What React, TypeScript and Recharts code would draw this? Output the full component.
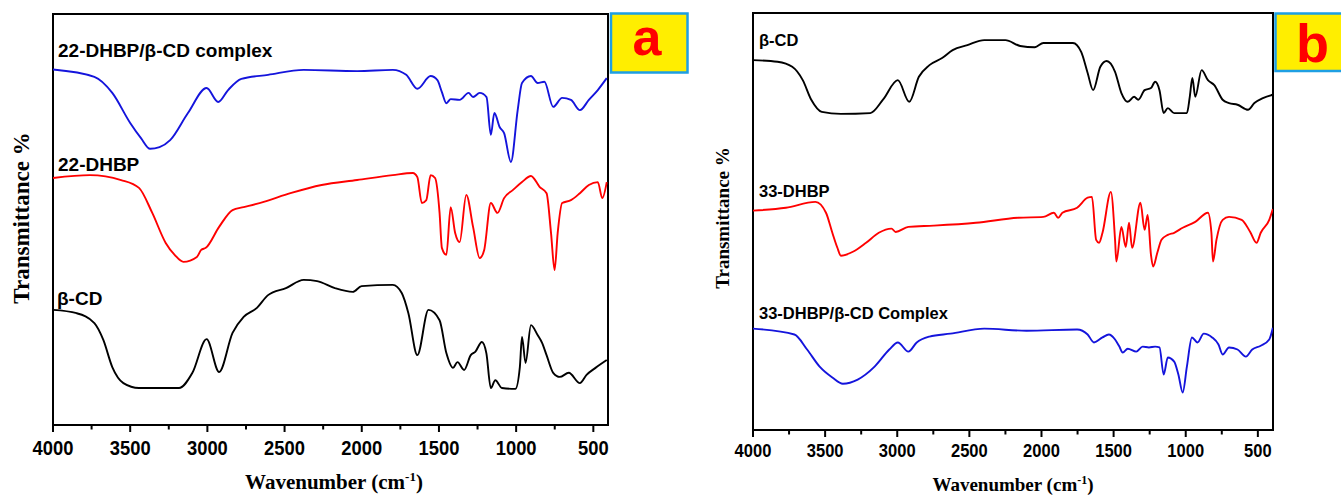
import React from "react";
import { LineChart, Line, XAxis, YAxis, ReferenceArea } from "recharts";

// FTIR spectra, [wavenumber cm-1, transmittance (offset, a.u.)]
// panel a
const complexA: [number, number][] = [
  [4000, 86.5], [3732, 84.7], [3616, 80.8], [3500, 73.5], [3430, 69.8], [3371, 67.2], [3310, 67.6],
  [3241, 69.3], [3126, 75.9], [3005, 82.0], [2930, 78.6], [2866, 81.5], [2780, 84.2], [2607, 85.2],
  [2376, 86.4], [2030, 86.1], [1799, 86.4], [1712, 85.2], [1640, 81.8], [1554, 84.9], [1510, 83.9],
  [1481, 81.0], [1452, 78.3], [1424, 79.3], [1366, 79.1], [1308, 80.8], [1279, 79.8], [1236, 80.8],
  [1192, 79.8], [1164, 70.6], [1141, 75.9], [1107, 72.5], [1078, 71.0], [1034, 64.0], [990, 76.6],
  [962, 83.2], [904, 84.9], [861, 83.2], [817, 83.5], [760, 77.4], [702, 79.6], [645, 79.1],
  [587, 76.6], [529, 79.1], [471, 81.5], [413, 84.4],
];
const dhbpA: [number, number][] = [
  [4000, 60.1], [3761, 60.8], [3559, 59.6], [3443, 57.7], [3357, 51.6], [3270, 44.3], [3212, 41.4],
  [3155, 39.7], [3068, 40.9], [3040, 42.6], [3010, 43.1], [2924, 48.2], [2837, 52.3], [2765, 53.0],
  [2635, 54.3], [2462, 56.4], [2260, 58.4], [2030, 59.6], [1799, 60.8], [1669, 61.3], [1640, 60.3],
  [1611, 54.0], [1582, 54.7], [1554, 60.8], [1525, 60.1], [1496, 51.6], [1481, 43.1], [1452, 41.4],
  [1424, 53.0], [1395, 46.7], [1366, 44.5], [1323, 56.0], [1279, 48.2], [1236, 40.6], [1207, 42.6],
  [1164, 54.0], [1121, 51.6], [1078, 55.2], [1020, 57.2], [962, 59.1], [904, 60.6], [847, 57.9],
  [803, 56.4], [774, 46.7], [751, 37.7], [731, 46.7], [702, 54.0], [645, 54.7], [587, 56.4],
  [529, 58.4], [471, 59.1], [442, 55.2], [413, 59.1],
];
const cdA: [number, number][] = [
  [4000, 28.0], [3847, 27.2], [3732, 24.8], [3674, 20.7], [3616, 14.1], [3544, 10.2], [3443, 9.0],
  [3184, 9.0], [3097, 12.7], [3005, 20.9], [2924, 12.9], [2837, 22.4], [2765, 26.3], [2679, 28.5],
  [2607, 31.6], [2491, 33.3], [2376, 35.3], [2289, 35.0], [2174, 33.3], [2058, 32.4], [2001, 33.8],
  [1799, 34.1], [1741, 32.1], [1698, 27.2], [1640, 17.0], [1568, 28.0], [1496, 25.5], [1452, 17.5],
  [1409, 13.9], [1380, 15.3], [1337, 13.4], [1294, 17.0], [1265, 17.8], [1222, 20.2], [1193, 17.5],
  [1164, 9.0], [1135, 10.9], [1092, 9.0], [1005, 8.8], [976, 14.1], [962, 21.4], [939, 15.1],
  [904, 24.3], [861, 21.9], [832, 20.0], [803, 17.0], [760, 12.7], [717, 11.7], [659, 12.7],
  [587, 10.2], [544, 12.2], [486, 13.9], [413, 15.8],
];

// panel b
const cdB: [number, number][] = [
  [4000, 88.7], [3830, 88.3], [3728, 87.1], [3655, 83.9], [3596, 79.2], [3523, 76.3], [3391, 75.8],
  [3187, 76.0], [3099, 79.2], [2996, 83.9], [2917, 78.7], [2850, 84.7], [2777, 87.5], [2689, 89.2],
  [2616, 91.1], [2514, 92.3], [2397, 93.5], [2250, 93.5], [2148, 92.1], [2046, 91.8], [1987, 92.8],
  [1782, 92.8], [1724, 90.6], [1680, 85.6], [1642, 81.5], [1592, 87.1], [1548, 88.5], [1490, 85.9],
  [1446, 80.8], [1402, 78.7], [1358, 79.9], [1329, 79.2], [1285, 81.5], [1241, 82.0], [1212, 83.5],
  [1182, 81.5], [1153, 76.0], [1124, 77.2], [1080, 76.0], [992, 76.0], [972, 79.9], [954, 84.4],
  [934, 79.9], [890, 86.3], [846, 83.9], [802, 82.7], [744, 79.2], [700, 78.4], [641, 78.0],
  [568, 76.8], [524, 78.4], [465, 79.6], [396, 80.4],
];
const dhbpB: [number, number][] = [
  [4000, 52.6], [3772, 53.3], [3567, 54.7], [3494, 52.1], [3450, 47.3], [3415, 43.7], [3391, 41.8],
  [3304, 42.8], [3216, 44.9], [3128, 47.3], [3040, 48.3], [3011, 47.5], [2923, 48.7], [2748, 49.0],
  [2455, 49.7], [2162, 50.9], [1987, 51.1], [1914, 52.1], [1885, 50.9], [1855, 52.1], [1753, 53.3],
  [1680, 55.7], [1650, 55.9], [1621, 45.6], [1601, 44.9], [1577, 47.3], [1519, 57.1], [1490, 45.6],
  [1481, 40.4], [1446, 48.7], [1416, 43.9], [1393, 49.7], [1372, 43.7], [1314, 54.5], [1285, 48.0],
  [1264, 51.6], [1241, 42.0], [1226, 39.2], [1197, 42.5], [1168, 45.6], [1124, 46.8], [1080, 47.3],
  [1021, 48.5], [934, 49.9], [846, 52.1], [822, 47.3], [811, 40.4], [787, 45.6], [744, 50.4],
  [700, 51.1], [612, 50.4], [553, 47.5], [509, 44.9], [480, 47.3], [421, 50.4], [396, 53.0],
];
const complexB: [number, number][] = [
  [4000, 24.3], [3713, 22.9], [3625, 19.3], [3538, 15.2], [3450, 12.6], [3377, 11.1], [3274, 12.1],
  [3157, 15.2], [3055, 19.3], [2996, 21.0], [2923, 18.8], [2865, 21.0], [2777, 22.4], [2631, 23.1],
  [2397, 24.3], [2104, 23.8], [1753, 24.1], [1680, 22.9], [1636, 21.0], [1577, 22.2], [1533, 22.9],
  [1490, 21.7], [1460, 20.0], [1437, 18.6], [1402, 19.5], [1343, 18.8], [1299, 20.0], [1255, 19.8],
  [1212, 20.0], [1182, 19.8], [1153, 13.3], [1124, 17.4], [1080, 16.4], [1051, 13.3], [1021, 9.0],
  [992, 15.2], [957, 22.2], [919, 21.0], [875, 23.1], [817, 22.2], [773, 20.5], [744, 18.1],
  [700, 19.8], [641, 19.3], [583, 17.6], [539, 19.3], [480, 20.2], [421, 21.7], [396, 24.5],
];

const MAJOR_TICKS = [4000, 3500, 3000, 2500, 2000, 1500, 1000, 500];
const MINOR_TICKS = [3750, 3250, 2750, 2250, 1750, 1250, 750];
const ALL_TICKS = [...MAJOR_TICKS, ...MINOR_TICKS].sort((a, b) => b - a);

const SANS = "'Liberation Sans', Arial, sans-serif";
const SERIF = "'Liberation Serif', 'Times New Roman', serif";
const BLUE = "#1414dc";
const RED = "#ff0000";

const toRows = (pts: [number, number][]) => pts.map(([w, t]) => ({ w, t }));

// tick line + squeezed bold label, drawn by the axis for every tick
const makeTick = (fontSize: number, labelDy: number) => (props: any) => {
  const { x, y, payload } = props;
  const major = MAJOR_TICKS.includes(payload.value);
  return (
    <g>
      <line x1={x} x2={x} y1={y} y2={y + (major ? 7 : 4.5)} stroke="#000" strokeWidth={2} />
      {major && (
        <g transform={`translate(${x},${y + labelDy})`}>
          <text
            transform="scale(0.92,1)"
            textAnchor="middle"
            fontFamily={SANS}
            fontWeight="bold"
            fontSize={fontSize}
            fill="#000"
          >
            {payload.value}
          </text>
        </g>
      )}
    </g>
  );
};

interface Series {
  name: string;
  color: string;
  data: [number, number][];
}

interface PanelProps {
  left: number;
  width: number;
  margin: { top: number; right: number; bottom: number; left: number };
  axisHeight: number;
  xMin: number;
  series: Series[];
  tickFont: number;
  tickDy: number;
}

function Panel({ left, width, margin, axisHeight, xMin, series, tickFont, tickDy }: PanelProps) {
  return (
    <div style={{ position: "absolute", left, top: 0 }}>
      <LineChart width={width} height={496} margin={margin}>
        <XAxis
          dataKey="w"
          type="number"
          domain={[xMin, 4000]}
          reversed
          allowDataOverflow
          ticks={ALL_TICKS}
          interval={0}
          height={axisHeight}
          axisLine={false}
          tickLine={false}
          tickSize={0}
          tickMargin={0}
          tick={makeTick(tickFont, tickDy)}
        />
        <YAxis hide type="number" domain={[0, 100]} allowDataOverflow />
        {series.map((s) => (
          <Line
            key={s.name}
            name={s.name}
            data={toRows(s.data)}
            dataKey="t"
            type="monotone"
            stroke={s.color}
            strokeWidth={1.9}
            dot={false}
            isAnimationActive={false}
          />
        ))}
        <ReferenceArea
          x1={4000}
          x2={xMin}
          y1={0}
          y2={100}
          fill="none"
          stroke="#000"
          strokeWidth={2}
          ifOverflow="visible"
        />
      </LineChart>
    </div>
  );
}

export default function App() {
  return (
    <div
      style={{
        position: "absolute",
        left: 0,
        top: 0,
        width: 1341,
        height: 496,
        background: "#fff",
        overflow: "hidden",
      }}
    >
      <Panel
        left={0}
        width={700}
        margin={{ top: 14, right: 92, bottom: 0, left: 53 }}
        axisHeight={71}
        xMin={405}
        tickFont={20}
        tickDy={30}
        series={[
          { name: "22-DHBP/β-CD complex", color: BLUE, data: complexA },
          { name: "22-DHBP", color: RED, data: dhbpA },
          { name: "β-CD", color: "#000", data: cdA },
        ]}
      />
      <Panel
        left={700}
        width={641}
        margin={{ top: 13, right: 68, bottom: 0, left: 53 }}
        axisHeight={66}
        xMin={395}
        tickFont={18}
        tickDy={27}
        series={[
          { name: "β-CD", color: "#000", data: cdB },
          { name: "33-DHBP", color: RED, data: dhbpB },
          { name: "33-DHBP/β-CD Complex", color: BLUE, data: complexB },
        ]}
      />

      {/* titles, curve labels and panel badges */}
      <svg
        width={1341}
        height={496}
        style={{ position: "absolute", left: 0, top: 0, pointerEvents: "none" }}
      >
        <g fontFamily={SANS} fontWeight="bold" fill="#000">
          <text x={58} y={57} fontSize={19}>22-DHBP/β-CD complex</text>
          <text x={58} y={171} fontSize={19}>22-DHBP</text>
          <text x={57} y={305} fontSize={19}>β-CD</text>
          <text x={759} y={46} fontSize={16.5}>β-CD</text>
          <text x={759} y={197} fontSize={16.5}>33-DHBP</text>
          <text x={759} y={319} fontSize={16.5}>33-DHBP/β-CD Complex</text>
        </g>

        <g fontFamily={SERIF} fontWeight="bold" fill="#000">
          <text transform="translate(28.5,218) rotate(-90)" textAnchor="middle" fontSize={23}>
            Transmittance %
          </text>
          <text transform="translate(729,218) rotate(-90)" textAnchor="middle" fontSize={19}>
            Transmittance %
          </text>
          <text x={334} y={489} textAnchor="middle" fontSize={21}>
            Wavenumber (cm
            <tspan fontSize={13} dy={-8}>-1</tspan>
            <tspan dy={8}>)</tspan>
          </text>
          <text x={1013} y={491} textAnchor="middle" fontSize={19}>
            Wavenumber (cm
            <tspan fontSize={12} dy={-7}>-1</tspan>
            <tspan dy={7}>)</tspan>
          </text>
        </g>

        <rect x={611} y={13.5} width={76.5} height={59} fill="#ffee00" stroke="#1e9fe3" strokeWidth={2.5} />
        <text x={647} y={55} textAnchor="middle" fontFamily={SANS} fontWeight="bold" fontSize={52} fill={RED}>
          a
        </text>
        <rect x={1275.5} y={13.5} width={80} height={57.5} fill="#ffee00" stroke="#1e9fe3" strokeWidth={2.5} />
        <text x={1312.5} y={61.5} textAnchor="middle" fontFamily={SANS} fontWeight="bold" fontSize={54} fill={RED}>
          b
        </text>
      </svg>
    </div>
  );
}
